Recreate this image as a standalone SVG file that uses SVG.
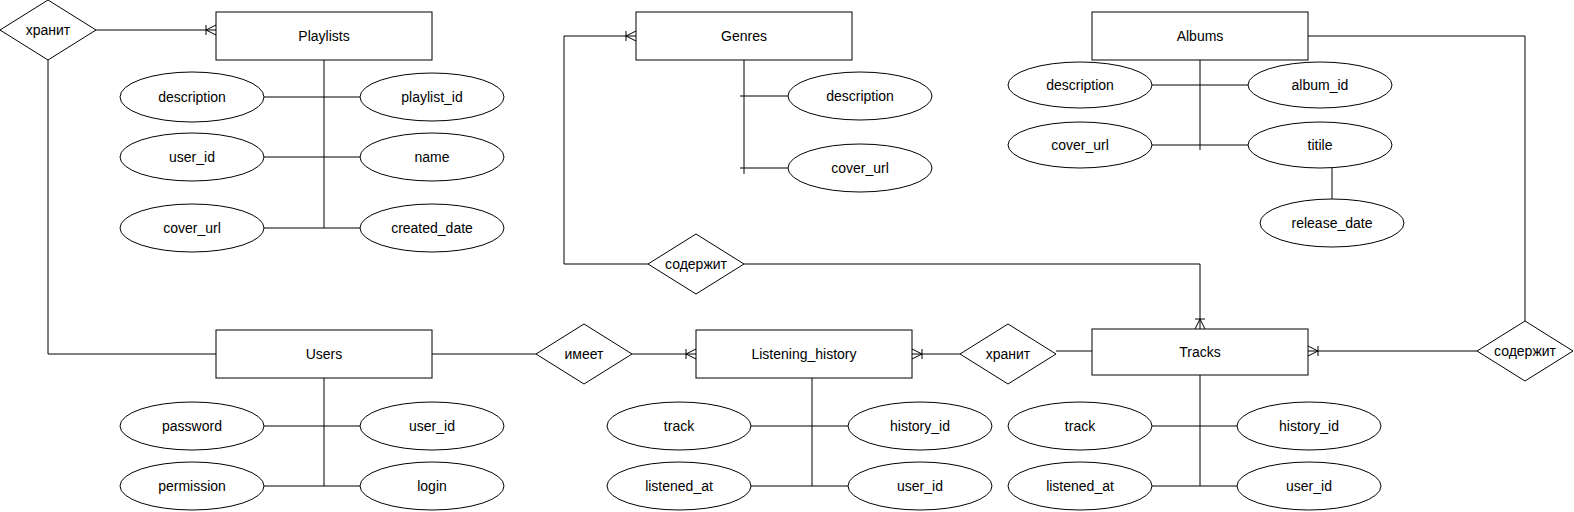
<svg xmlns="http://www.w3.org/2000/svg" width="1574" height="512" viewBox="0 0 1574 512">
<style>
.ent{fill:#fff;stroke:#000;stroke-width:1}
.att{fill:#fff;stroke:#000;stroke-width:1}
.rel{fill:#fff;stroke:#000;stroke-width:1}
.ln{fill:none;stroke:#000;stroke-width:1}
text{font-family:"Liberation Sans",Arial,Helvetica,sans-serif;font-size:14px;fill:#000;text-anchor:middle;dominant-baseline:central}
</style>
<defs>
<marker id="many" viewBox="0 0 12 12" markerWidth="12" markerHeight="12" refX="12" refY="6" markerUnits="userSpaceOnUse" orient="auto">
<path d="M2,1 L2,11 M2,6 L12,1 M2,6 L12,11" fill="none" stroke="#000" stroke-width="1"/>
</marker>
</defs>
<rect width="1574" height="512" fill="#fff"/>
<g id="connectors">
<polyline class="ln" points="96,30 216,30" marker-end="url(#many)"/>
<polyline class="ln" points="48,60 48,354 216,354"/>
<polyline class="ln" points="432,354 536,354"/>
<polyline class="ln" points="632,354 696,354" marker-end="url(#many)"/>
<polyline class="ln" points="960,354 912,354" marker-end="url(#many)"/>
<polyline class="ln" points="1056,351 1092,351"/>
<polyline class="ln" points="1477,351 1308,351" marker-end="url(#many)"/>
<polyline class="ln" points="1525,321 1525,36 1308,36"/>
<polyline class="ln" points="648,264 564,264 564,36 636,36" marker-end="url(#many)"/>
<polyline class="ln" points="744,264 1200,264 1200,329" marker-end="url(#many)"/>
<path class="ln" d="M324,60 V228 M264,97 H360 M264,157 H360 M264,228 H360"/>
<path class="ln" d="M744,60 V174 M740,96 H788 M740,168 H788"/>
<path class="ln" d="M1200,60 V150 M1152,85 H1248 M1152,145 H1248 M1332,168 V200"/>
<path class="ln" d="M324,378 V486 M264,426 H360 M264,486 H360"/>
<path class="ln" d="M812,378 V486 M751,426 H848 M751,486 H848"/>
<path class="ln" d="M1200,375 V486 M1152,426 H1237 M1152,486 H1237"/>
</g>
<g id="rel-hranit-top"><polygon class="rel" points="0,30 48,0 96,30 48,60"/><text x="48" y="30">хранит</text></g>
<g id="playlists"><rect class="ent" x="216" y="12" width="216" height="48"/><text x="324" y="36">Playlists</text></g>
<g id="pl-description"><ellipse class="att" cx="192" cy="97" rx="72" ry="25"/><text x="192" y="97">description</text></g>
<g id="pl-playlist_id"><ellipse class="att" cx="432" cy="97" rx="72" ry="24"/><text x="432" y="97">playlist_id</text></g>
<g id="pl-user_id"><ellipse class="att" cx="192" cy="157" rx="72" ry="24"/><text x="192" y="157">user_id</text></g>
<g id="pl-name"><ellipse class="att" cx="432" cy="157" rx="72" ry="24"/><text x="432" y="157">name</text></g>
<g id="pl-cover_url"><ellipse class="att" cx="192" cy="228" rx="72" ry="24"/><text x="192" y="228">cover_url</text></g>
<g id="pl-created_date"><ellipse class="att" cx="432" cy="228" rx="72" ry="24"/><text x="432" y="228">created_date</text></g>

<g id="genres"><rect class="ent" x="636" y="12" width="216" height="48"/><text x="744" y="36">Genres</text></g>
<g id="ge-description"><ellipse class="att" cx="860" cy="96" rx="72" ry="24"/><text x="860" y="96">description</text></g>
<g id="ge-cover_url"><ellipse class="att" cx="860" cy="168" rx="72" ry="24"/><text x="860" y="168">cover_url</text></g>
<g id="rel-soderzhit-mid"><polygon class="rel" points="648,264 696,234 744,264 696,294"/><text x="696" y="264">содержит</text></g>

<g id="albums"><rect class="ent" x="1092" y="12" width="216" height="48"/><text x="1200" y="36">Albums</text></g>
<g id="al-description"><ellipse class="att" cx="1080" cy="85" rx="72" ry="23"/><text x="1080" y="85">description</text></g>
<g id="al-album_id"><ellipse class="att" cx="1320" cy="85" rx="72" ry="23"/><text x="1320" y="85">album_id</text></g>
<g id="al-cover_url"><ellipse class="att" cx="1080" cy="145" rx="72" ry="23"/><text x="1080" y="145">cover_url</text></g>
<g id="al-titile"><ellipse class="att" cx="1320" cy="145" rx="72" ry="23"/><text x="1320" y="145">titile</text></g>
<g id="al-release_date"><ellipse class="att" cx="1332" cy="223" rx="72" ry="24"/><text x="1332" y="223">release_date</text></g>

<g id="users"><rect class="ent" x="216" y="330" width="216" height="48"/><text x="324" y="354">Users</text></g>
<g id="us-password"><ellipse class="att" cx="192" cy="426" rx="72" ry="24"/><text x="192" y="426">password</text></g>
<g id="us-user_id"><ellipse class="att" cx="432" cy="426" rx="72" ry="24"/><text x="432" y="426">user_id</text></g>
<g id="us-permission"><ellipse class="att" cx="192" cy="486" rx="72" ry="24"/><text x="192" y="486">permission</text></g>
<g id="us-login"><ellipse class="att" cx="432" cy="486" rx="72" ry="24"/><text x="432" y="486">login</text></g>

<g id="rel-imeet"><polygon class="rel" points="536,354 584,324 632,354 584,384"/><text x="584" y="354">имеет</text></g>

<g id="listening_history"><rect class="ent" x="696" y="330" width="216" height="48"/><text x="804" y="354">Listening_history</text></g>
<g id="lh-track"><ellipse class="att" cx="679" cy="426" rx="72" ry="24"/><text x="679" y="426">track</text></g>
<g id="lh-history_id"><ellipse class="att" cx="920" cy="426" rx="72" ry="24"/><text x="920" y="426">history_id</text></g>
<g id="lh-listened_at"><ellipse class="att" cx="679" cy="486" rx="72" ry="24"/><text x="679" y="486">listened_at</text></g>
<g id="lh-user_id"><ellipse class="att" cx="920" cy="486" rx="72" ry="24"/><text x="920" y="486">user_id</text></g>

<g id="rel-hranit-mid"><polygon class="rel" points="960,354 1008,324 1056,354 1008,384"/><text x="1008" y="354">хранит</text></g>

<g id="tracks"><rect class="ent" x="1092" y="329" width="216" height="46"/><text x="1200" y="352">Tracks</text></g>
<g id="tr-track"><ellipse class="att" cx="1080" cy="426" rx="72" ry="24"/><text x="1080" y="426">track</text></g>
<g id="tr-history_id"><ellipse class="att" cx="1309" cy="426" rx="72" ry="24"/><text x="1309" y="426">history_id</text></g>
<g id="tr-listened_at"><ellipse class="att" cx="1080" cy="486" rx="72" ry="24"/><text x="1080" y="486">listened_at</text></g>
<g id="tr-user_id"><ellipse class="att" cx="1309" cy="486" rx="72" ry="24"/><text x="1309" y="486">user_id</text></g>

<g id="rel-soderzhit-right"><polygon class="rel" points="1477,351 1525,321 1573,351 1525,381"/><text x="1525" y="351">содержит</text></g>
</svg>
